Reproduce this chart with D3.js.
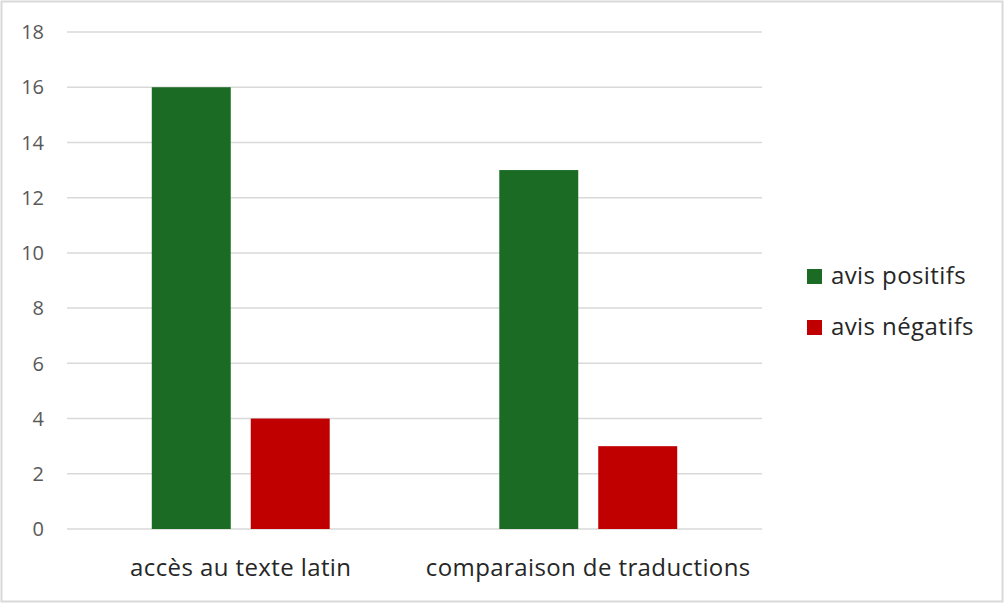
<!DOCTYPE html>
<html>
<head>
<meta charset="utf-8">
<script src="https://cdn.jsdelivr.net/npm/d3@7"></script>
<style>
  body { margin: 0; background: #fff; }
  text { font-family: "Open Sans", Roboto, sans-serif; }
</style>
</head>
<body>
<script>
"use strict";

var categories = ["accès au texte latin", "comparaison de traductions"];
var seriesNames = ["avis positifs", "avis négatifs"];
var positifs = [16, 13];
var negatifs = [4, 3];
var yTicks = [0, 2, 4, 6, 8, 10, 12, 14, 16, 18];
var colors = ["#1b6b24", "#c00000"];

function chart(){
  var width = 1004,
      height = 603;
  var svg = d3.select("body")
              .append("svg")
              .attr("width", width)
              .attr("height", height);

  // outer frame
  svg.append("rect")
     .attr("x", 1.5).attr("y", 1.5)
     .attr("width", width - 3).attr("height", height - 3)
     .attr("fill", "#fff")
     .attr("stroke", "#d9d9d9")
     .attr("stroke-width", 2);

  var y = d3.scaleLinear()
      .domain([0, 18])
      .range([529, 32]);

  var x0 = d3.scaleBand()
      .domain(categories)
      .range([67, 762])
      .paddingInner(0.488)
      .paddingOuter(0.244);

  var x1 = d3.scaleBand()
      .domain(seriesNames)
      .range([0, x0.bandwidth()])
      .paddingInner(0.202)
      .paddingOuter(0);

  // gridlines
  svg.append("g")
     .selectAll("line")
     .data(yTicks)
     .enter().append("line")
        .attr("x1", 67)
        .attr("x2", 762)
        .attr("y1", function(d){ return y(d); })
        .attr("y2", function(d){ return y(d); })
        .style("stroke", "#d9d9d9")
        .style("stroke-width", "1.5");

  // y tick labels
  svg.append("g")
     .selectAll("text")
     .data(yTicks)
     .enter().append("text")
        .attr("x", 44)
        .attr("y", function(d){ return y(d); })
        .attr("dy", "0.36em")
        .attr("text-anchor", "end")
        .attr("fill", "#595959")
        .style("font-size", "20px")
        .text(function(d){ return d; });

  var rows = categories.map(function(c, i){
    return { cat: c, values: [positifs[i], negatifs[i]] };
  });

  var groups = svg.append("g")
      .selectAll("g")
      .data(rows)
      .enter().append("g")
        .attr("transform", function(d){ return "translate(" + x0(d.cat) + ",0)"; });

  groups.selectAll("rect")
     .data(function(d){ return d.values.map(function(v, j){ return { s: seriesNames[j], v: v, j: j }; }); })
     .enter().append("rect")
        .attr("x", function(d){ return x1(d.s); })
        .attr("y", function(d){ return y(d.v); })
        .attr("width", x1.bandwidth())
        .attr("height", function(d){ return y(0) - y(d.v); })
        .attr("fill", function(d){ return colors[d.j]; });

  // category labels
  svg.append("g")
     .selectAll("text")
     .data(categories)
     .enter().append("text")
        .attr("x", function(d){ return x0(d) + x0.bandwidth() / 2; })
        .attr("y", 576)
        .attr("text-anchor", "middle")
        .attr("fill", "#262626")
        .style("font-size", "24px")
        .style("letter-spacing", "0.4px")
        .text(function(d){ return d; });

  // legend
  var legend = svg.append("g")
      .selectAll("g")
      .data(seriesNames)
      .enter().append("g")
        .attr("transform", function(d, i){ return "translate(807," + (269 + i * 51) + ")"; });

  legend.append("rect")
        .attr("width", 15)
        .attr("height", 15)
        .attr("fill", function(d, i){ return colors[i]; });

  legend.append("text")
        .attr("x", 24)
        .attr("y", 15)
        .attr("fill", "#262626")
        .style("font-size", "24px")
        .style("letter-spacing", "0.4px")
        .text(function(d){ return d; });
}

chart();
</script>
</body>
</html>
